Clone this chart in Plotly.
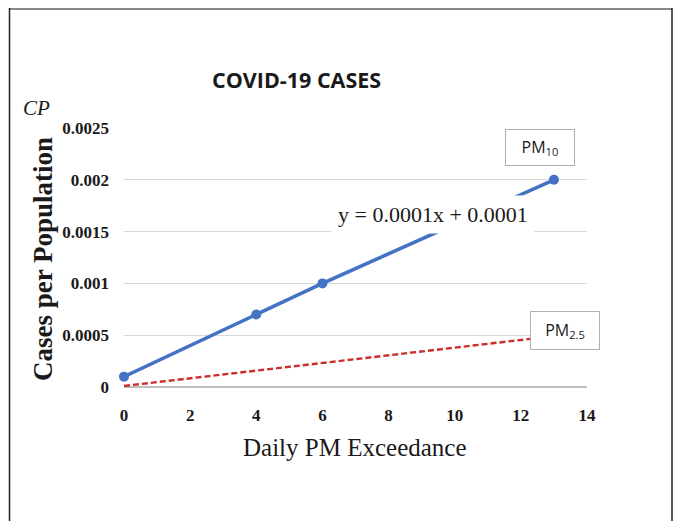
import plotly.graph_objects as go

# PM10 observations
pm10_x = [0, 4, 6, 13]
pm10_y = [0.0001, 0.0007, 0.001, 0.002]

# PM2.5 trend line
pm25_x = [0, 14.6]
pm25_y = [0.00001, 0.00055]

x_ticks = [0, 2, 4, 6, 8, 10, 12, 14]
y_ticks = [0, 0.0005, 0.001, 0.0015, 0.002, 0.0025]
y_tick_text = ['0', '0.0005', '0.001', '0.0015', '0.002', '0.0025']

serif = 'Liberation Serif'

# page body adds an 8px margin, so the figure is a bit smaller
OFF = 8
W, H = 665, 513
L, T = 124 - OFF, 128 - OFF
R = W - (587 - OFF)
B = H - (387 - OFF)
pw, ph = W - L - R, H - T - B


def px(sx):
    return (sx - OFF - L) / pw


def py(sy):
    return (H - B - (sy - OFF)) / ph


fig = go.Figure()

fig.add_trace(go.Scatter(
    x=pm25_x, y=pm25_y, mode='lines',
    line=dict(color='#cc2e2a', width=2.4, dash='6px,3px'),
    cliponaxis=False, showlegend=False
))

fig.add_trace(go.Scatter(
    x=pm10_x, y=pm10_y, mode='lines+markers',
    line=dict(color='#4472c4', width=3.6),
    marker=dict(color='#4472c4', size=10),
    cliponaxis=False, showlegend=False
))

# outer frame
fig.add_shape(type='line', xref='paper', yref='paper',
              x0=px(9), x1=px(672), y0=py(9), y1=py(9),
              line=dict(color='#888888', width=2))
fig.add_shape(type='line', xref='paper', yref='paper',
              x0=px(9.5), x1=px(9.5), y0=py(8), y1=py(540),
              line=dict(color='#222222', width=1.5))
fig.add_shape(type='line', xref='paper', yref='paper',
              x0=px(672), x1=px(672), y0=py(8), y1=py(540),
              line=dict(color='#222222', width=1.5))


def note(text, sx, sy, size, family=serif, **kw):
    fig.add_annotation(
        text=text, x=px(sx), y=py(sy), xref='paper', yref='paper',
        xanchor='center', yanchor='middle', showarrow=False,
        font=dict(family=family, size=size, color='#1a1a1a'), **kw
    )


note('y = 0.0001x + 0.0001', 433, 214, 22, bgcolor='white', borderpad=6)
note('PM<sub>10</sub>', 540, 147, 16, family='Open Sans',
     bgcolor='white', bordercolor='#b0b0b0', borderwidth=1, width=66, height=33)
note('PM<sub>2.5</sub>', 565, 330, 16, family='Open Sans',
     bgcolor='white', bordercolor='#b0b0b0', borderwidth=1, width=66, height=35)
note('<b>COVID-19 CASES</b>', 296, 80, 21.5, family='Open Sans')
note('<i>CP</i>', 36, 108, 21)
note('<b>Cases per Population</b>', 43, 259, 27, textangle=-90)
note('Daily PM Exceedance', 355, 447, 25)

fig.update_xaxes(
    range=[0, 14], tickvals=x_ticks, showgrid=False, zeroline=False,
    showline=False, ticks='', ticklabelstandoff=16,
    tickfont=dict(family=serif, size=17, color='#1a1a1a', weight='bold')
)
fig.update_yaxes(
    range=[0, 0.0025], tickvals=y_ticks, ticktext=y_tick_text,
    showgrid=True, gridcolor='#d9d9d9', gridwidth=1,
    zeroline=True, zerolinecolor='#bfbfbf', zerolinewidth=1.5,
    showline=False, ticks='', ticklabelstandoff=14,
    tickfont=dict(family=serif, size=17, color='#1a1a1a', weight='bold')
)

fig.update_layout(
    width=W, height=H,
    margin=dict(l=L, r=R, t=T, b=B),
    paper_bgcolor='white', plot_bgcolor='white',
    showlegend=False
)

fig.write_html('out.html')
